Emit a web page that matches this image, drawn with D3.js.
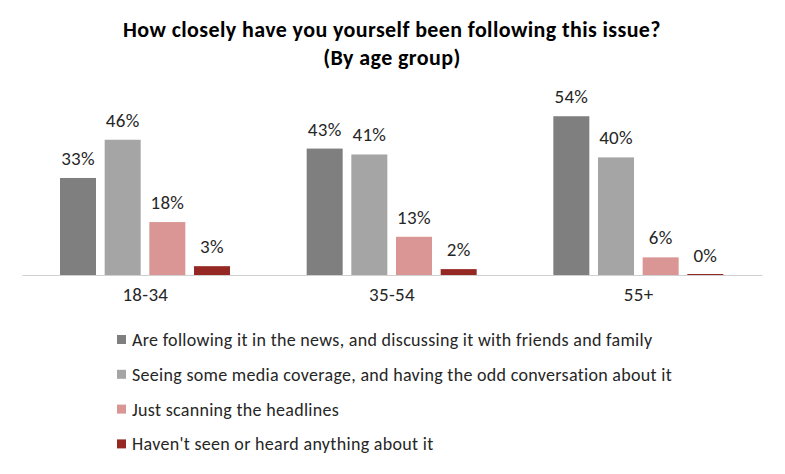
<!DOCTYPE html>
<html>
<head>
<meta charset="utf-8">
<script src="https://cdn.jsdelivr.net/npm/d3@7"></script>
<style>
	body { margin: 0; background: #fff; }
	text { font-family: Carlito, Calibri, Lato, sans-serif; }
</style>
</head>
<body>
<svg id="chart" width="785" height="474"></svg>
<script>
const groups = ["18-34", "35-54", "55+"];
const series = [
	"Are following it in the news, and discussing it with friends and family",
	"Seeing some media coverage, and having the odd conversation about it",
	"Just scanning the headlines",
	"Haven't seen or heard anything about it"
];
const colors = ["#7f7f7f", "#a5a5a5", "#da9694", "#962823"];
// values per series, in group order
const following = [33, 43, 54];
const someCoverage = [46, 41, 40];
const headlines = [18, 13, 6];
const nothing = [3, 2, 0];
const values = [following, someCoverage, headlines, nothing];

let svg = d3.select("#chart"),
	BASE = 275;

let x0 = d3.scaleBand()
	.domain(groups)
	.range([22, 762]);

let x1 = d3.scaleBand()
	.domain(d3.range(series.length))
	.range([38, 208])
	.paddingInner(0.194);

let y = d3.scaleLinear()
	.domain([0, 60])
	.range([BASE, BASE - 60 * 2.94]);

// title
let titleLines = ["How closely have you yourself been following this issue?", "(By age group)"];
svg.selectAll(".title")
	.data(titleLines)
	.enter().append("text")
	.attr("class", "title")
	.attr("x", 392).attr("y", (d, i) => 37 + i * 28)
	.attr("text-anchor", "middle")
	.style("font-size", "22px").style("font-weight", "bold")
	.style("letter-spacing", "0.4px")
	.attr("fill", "#000")
	.text(d => d);

// bars
for (let s = 0; s < series.length; s++) {
	let g = svg.append("g");
	g.selectAll("rect")
		.data(values[s])
		.enter().append("rect")
		.attr("x", (d, i) => x0(groups[i]) + x1(s))
		.attr("width", x1.bandwidth())
		.attr("y", d => Math.min(y(d), BASE - 1))
		.attr("height", d => Math.max(BASE - y(d), 1))
		.attr("fill", colors[s]);

	g.selectAll("text")
		.data(values[s])
		.enter().append("text")
		.attr("x", (d, i) => x0(groups[i]) + x1(s) + x1.bandwidth() / 2)
		.attr("y", d => y(d) - 13)
		.attr("text-anchor", "middle")
		.style("font-size", "19px")
		.style("letter-spacing", "0.3px")
		.attr("fill", "#262626")
		.text(d => d + "%");
}

// x axis
let xAxis = d3.axisBottom(x0).tickSize(0).tickPadding(13);
let ax = svg.append("g")
	.attr("transform", "translate(0," + BASE + ")")
	.call(xAxis);
ax.select(".domain").attr("stroke", "#d0d0d0").attr("stroke-width", 1);
ax.selectAll("text")
	.style("font-size", "19px")
	.style("letter-spacing", "0.3px")
	.style("font-family", "Carlito, Calibri, Lato, sans-serif")
	.attr("fill", "#262626");

// legend
let legend = svg.append("g");
let rows = legend.selectAll("g")
	.data(series)
	.enter().append("g")
	.attr("transform", (d, i) => "translate(117," + (340 + i * 34.8) + ")");
rows.append("rect")
	.attr("x", 0).attr("y", -5)
	.attr("width", 9).attr("height", 9)
	.attr("fill", (d, i) => colors[i]);
rows.append("text")
	.attr("x", 15).attr("y", 6)
	.style("font-size", "18px")
	.style("letter-spacing", "0.3px")
	.attr("fill", "#262626")
	.text(d => d);
</script>
</body>
</html>
